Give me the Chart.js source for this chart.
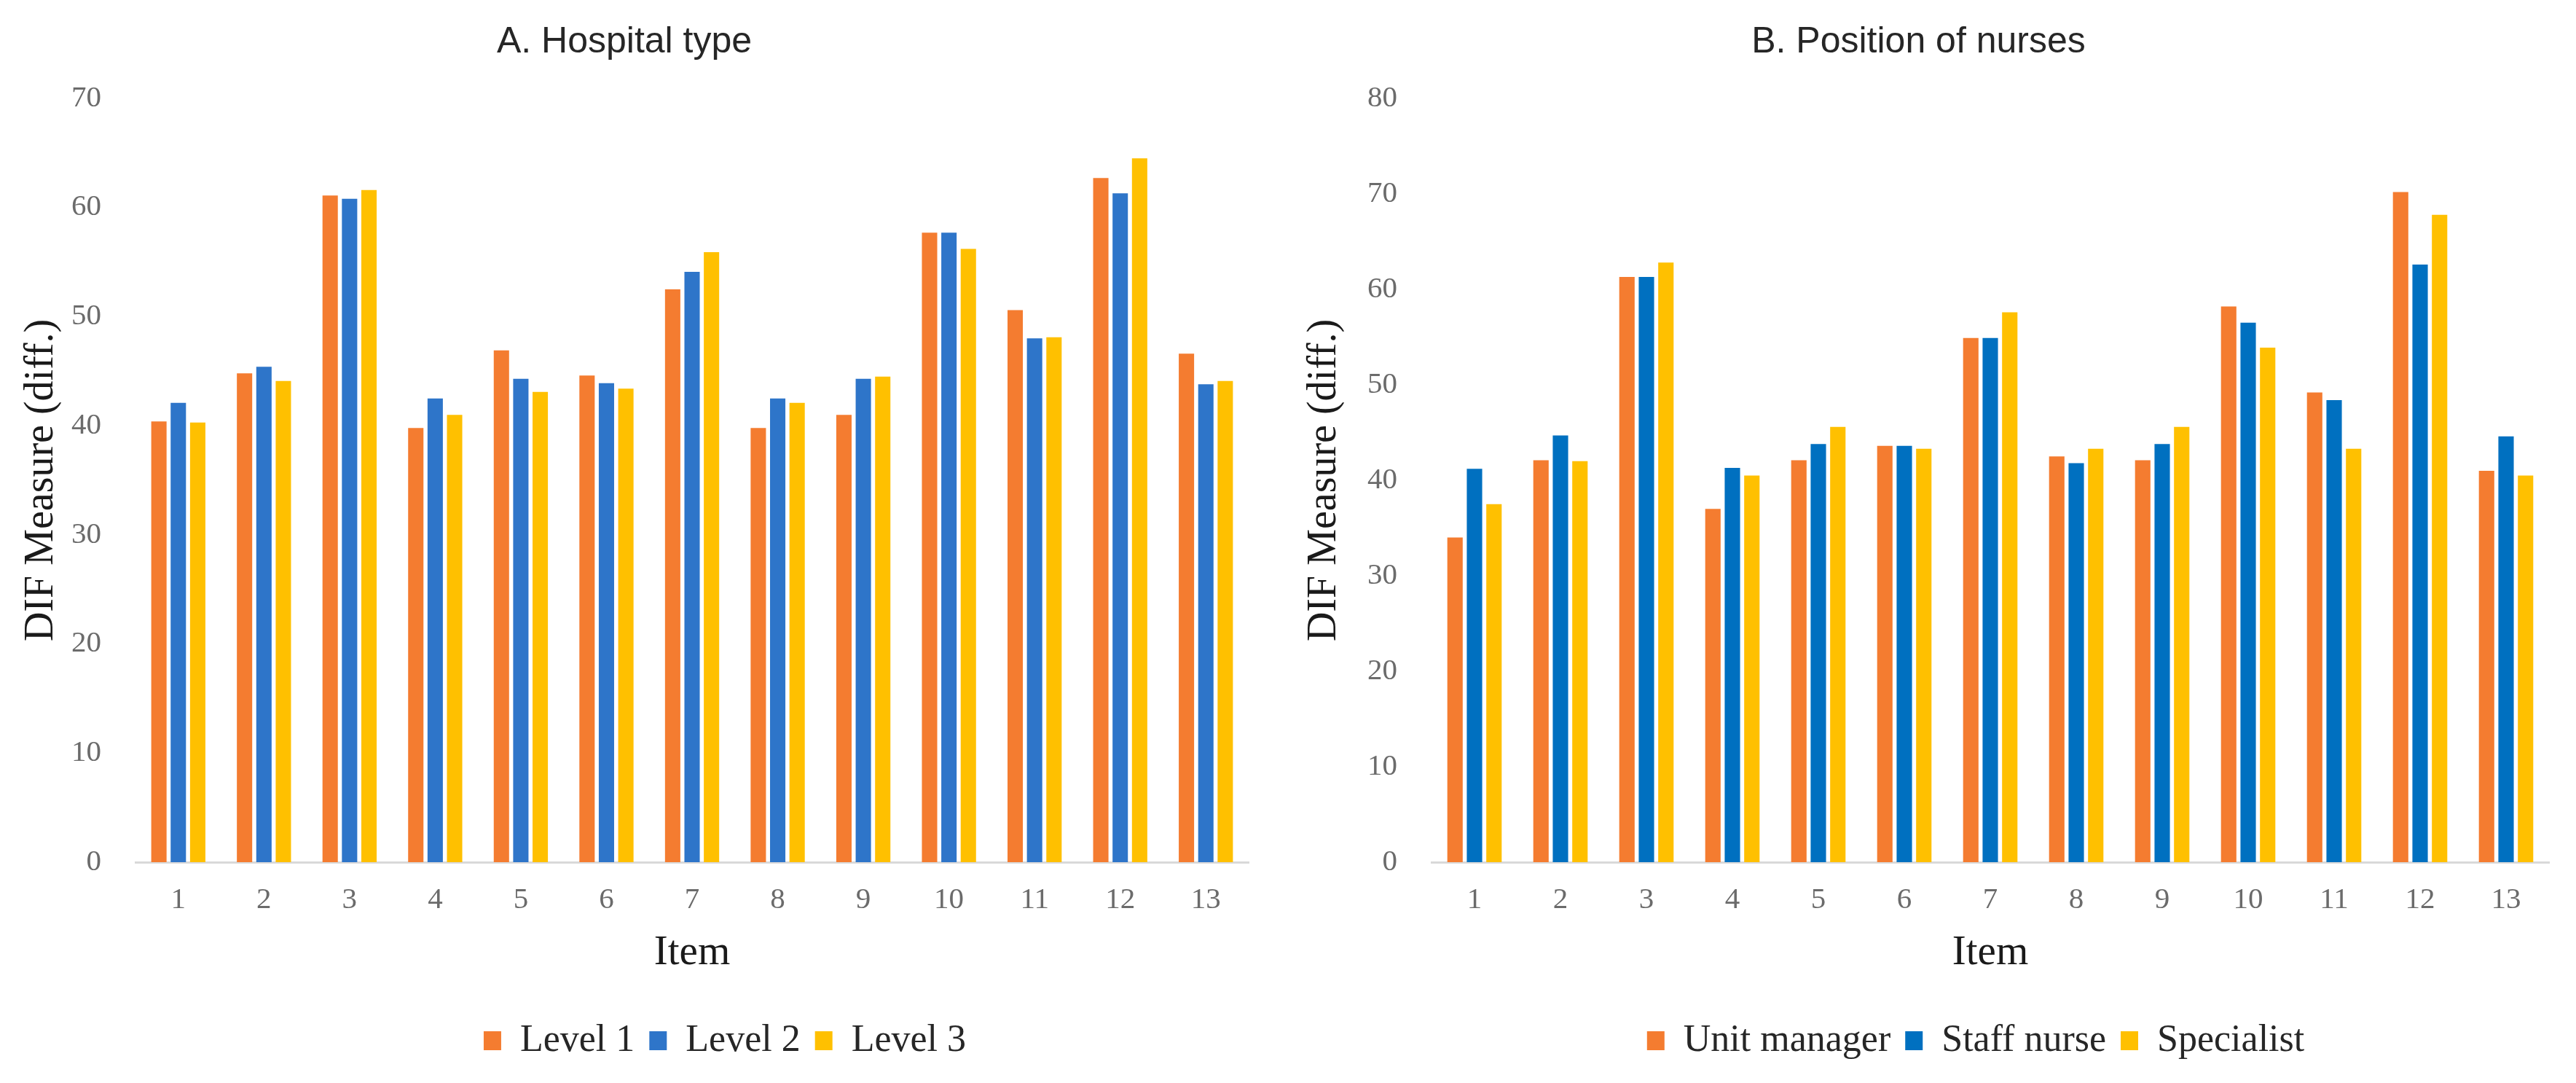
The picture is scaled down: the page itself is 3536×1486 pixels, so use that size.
<!DOCTYPE html>
<html>
<head>
<meta charset="utf-8">
<script src="https://cdn.jsdelivr.net/npm/chart.js@4/dist/chart.umd.min.js"></script>
<style>
    body { margin: 0; background: #ffffff; }
    #page { position: relative; width: 3536px; height: 1486px; }
    canvas { position: absolute; top: 0; }
    #chartA { left: 0; }
    #chartB { left: 1768px; }
</style>
</head>
<body>
<div id="page">
    <canvas id="chartA" width="1768" height="1486"></canvas>
    <canvas id="chartB" width="1768" height="1486"></canvas>
</div>
<script>
//Data
const items = ['1', '2', '3', '4', '5', '6', '7', '8', '9', '10', '11', '12', '13'];

// A. Hospital type
const level1 = [40.4, 44.8, 61.1, 39.8, 46.9, 44.6, 52.5, 39.8, 41.0, 57.7, 50.6, 62.7, 46.6];
const level2 = [42.1, 45.4, 60.8, 42.5, 44.3, 43.9, 54.1, 42.5, 44.3, 57.7, 48.0, 61.3, 43.8];
const level3 = [40.3, 44.1, 61.6, 41.0, 43.1, 43.4, 55.9, 42.1, 44.5, 56.2, 48.1, 64.5, 44.1];

// B. Position of nurses
const unitManager = [34.0, 42.1, 61.3, 37.0, 42.1, 43.6, 54.9, 42.5, 42.1, 58.2, 49.2, 70.2, 41.0];
const staffNurse = [41.2, 44.7, 61.3, 41.3, 43.8, 43.6, 54.9, 41.8, 43.8, 56.5, 48.4, 62.6, 44.6];
const specialist = [37.5, 42.0, 62.8, 40.5, 45.6, 43.3, 57.6, 43.3, 45.6, 53.9, 43.3, 67.8, 40.5];

const serif = '"Liberation Serif", "Times New Roman", serif';
const sans = '"Liberation Sans", Arial, sans-serif';

// moves the legend sideways, the original legends are not centred on the plot
const legendShift = {
    id: 'legendShift',
    afterLayout(chart, args, opts) {
        if (chart.legend && opts.dx) {
            chart.legend.left += opts.dx;
            chart.legend.right += opts.dx;
        }
    }
};

function makeDataset(label, data, color) {
    return {
        label: label,
        data: data,
        backgroundColor: color,
        borderWidth: 0,
        barPercentage: 0.79,
        categoryPercentage: 0.68
    };
}

function buildChart(canvasId, cfg) {
    const ctx = document.getElementById(canvasId).getContext('2d');

    return new Chart(ctx, {
        type: 'bar',
        data: {
            labels: items,
            datasets: cfg.datasets
        },
        plugins: [legendShift],
        options: {
            responsive: false,
            animation: false,
            devicePixelRatio: 1,
            layout: {
                padding: { top: 0, left: 0, right: cfg.padRight, bottom: 22 }
            },
            plugins: {
                tooltip: { enabled: false },
                title: {
                    display: true,
                    text: cfg.title,
                    color: '#262626',
                    font: { family: sans, size: 50, weight: 'normal' },
                    padding: { top: 28, bottom: 47 }
                },
                legend: {
                    position: 'bottom',
                    fullSize: false,
                    labels: {
                        color: '#262626',
                        font: { family: serif, size: 52 },
                        boxWidth: 24,
                        boxHeight: 26,
                        padding: 20
                    }
                },
                legendShift: { dx: cfg.legendDx }
            },
            scales: {
                x: {
                    grid: { display: true, drawOnChartArea: false, drawTicks: false },
                    border: { display: true, color: '#d9d9d9', width: 3 },
                    ticks: {
                        color: '#6b6b6b',
                        font: { family: serif, size: 41 },
                        padding: 28,
                        maxRotation: 0
                    },
                    title: {
                        display: true,
                        text: 'Item',
                        color: '#1a1a1a',
                        font: { family: serif, size: 57 },
                        padding: { top: 0, bottom: 40 }
                    },
                    afterFit(scale) {
                        scale.height = 199;
                    }
                },
                y: {
                    min: 0,
                    max: cfg.yMax,
                    grid: { display: false },
                    border: { display: false },
                    ticks: {
                        stepSize: 10,
                        color: '#6b6b6b',
                        font: { family: serif, size: 41 },
                        padding: 39
                    },
                    title: {
                        display: true,
                        text: 'DIF Measure (diff.)',
                        color: '#1a1a1a',
                        font: { family: serif, size: 56 },
                        padding: { top: cfg.yTitlePad, bottom: 0 }
                    },
                    afterFit(scale) {
                        scale.width = cfg.yWidth;
                    }
                }
            }
        }
    });
}

function startApp() {
    buildChart('chartA', {
        title: 'A. Hospital type',
        yMax: 70,
        yWidth: 186,
        yTitlePad: 24,
        padRight: 54,
        legendDx: 45,
        datasets: [
            makeDataset('Level 1', level1, '#f47c30'),
            makeDataset('Level 2', level2, '#2e75c9'),
            makeDataset('Level 3', level3, '#ffc000')
        ]
    });

    buildChart('chartB', {
        title: 'B. Position of nurses',
        yMax: 80,
        yWidth: 197,
        yTitlePad: 17,
        padRight: 37,
        legendDx: -20,
        datasets: [
            makeDataset('Unit manager', unitManager, '#f47c30'),
            makeDataset('Staff nurse', staffNurse, '#0070c0'),
            makeDataset('Specialist', specialist, '#ffc000')
        ]
    });
}

window.onload = startApp;
</script>
</body>
</html>
